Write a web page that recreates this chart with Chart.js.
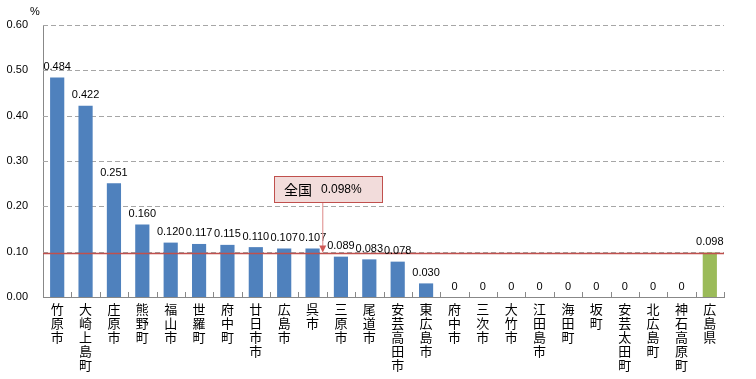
<!DOCTYPE html>
<html><head><meta charset="utf-8">
<script src="https://cdn.jsdelivr.net/npm/chart.js@4/dist/chart.umd.min.js"></script>
<style>html,body{margin:0;padding:0;background:#fff}#c{display:block}</style>
</head><body>
<canvas id="c" width="756" height="379"></canvas>
<script>
const categories = ['竹原市','大崎上島町','庄原市','熊野町','福山市','世羅町','府中町','廿日市市','広島市','呉市','三原市','尾道市','安芸高田市','東広島市','府中市','三次市','大竹市','江田島市','海田町','坂町','安芸太田町','北広島町','神石高原町','広島県'];
const values = [0.484,0.422,0.251,0.160,0.120,0.117,0.115,0.110,0.107,0.107,0.089,0.083,0.078,0.030,0,0,0,0,0,0,0,0,0,0.098];
const valueLabels = ['0.484','0.422','0.251','0.160','0.120','0.117','0.115','0.110','0.107','0.107','0.089','0.083','0.078','0.030','0','0','0','0','0','0','0','0','0','0.098'];
const nationalValue = 0.098;
const nationalLabel = '全国　0.098%';
const yTicks = [0,0.1,0.2,0.3,0.4,0.5,0.6];

const barColors = categories.map((c,i)=> i===categories.length-1 ? '#9bbb59' : '#4f81bd');
const numFont = '11px "Liberation Sans", Arial, sans-serif';

const overlay = {
  id:'overlay',
  beforeDatasetsDraw(chart){
    const ctx = chart.ctx, ca = chart.chartArea, y = chart.scales.y;
    ctx.save();
    ctx.strokeStyle = '#a6a6a6'; ctx.lineWidth = 1; ctx.setLineDash([5,3]);
    yTicks.forEach(v=>{ if(v===0) return; const py = Math.round(y.getPixelForValue(v))+0.5;
      ctx.beginPath(); ctx.moveTo(ca.left, py); ctx.lineTo(ca.right, py); ctx.stroke(); });
    ctx.restore();
  },
  afterDatasetsDraw(chart){
    const ctx = chart.ctx, ca = chart.chartArea, x = chart.scales.x, y = chart.scales.y;
    ctx.save();
    ctx.strokeStyle = '#888'; ctx.lineWidth = 1;
    for(let i=1;i<=categories.length;i++){
      const px = Math.round((x.getPixelForValue(i-1)+x.getPixelForValue(i))/2) + 0.5;
      const xx = i===categories.length ? Math.round(ca.right)+0.5 : px;
      ctx.beginPath(); ctx.moveTo(xx, ca.bottom); ctx.lineTo(xx, ca.bottom-5); ctx.stroke();
    }
    const ny = Math.round(y.getPixelForValue(nationalValue))+0.5;
    ctx.strokeStyle = '#c0504d'; ctx.lineWidth = 1.3;
    ctx.beginPath(); ctx.moveTo(ca.left, ny); ctx.lineTo(ca.right, ny); ctx.stroke();
    const meta = chart.getDatasetMeta(0);
    ctx.fillStyle = '#000'; ctx.font = numFont; ctx.textAlign='center'; ctx.textBaseline='bottom';
    meta.data.forEach((b,i)=>{ ctx.fillText(valueLabels[i], b.x, b.y-5); });
    ctx.textAlign='left'; ctx.textBaseline='middle';
    ctx.fillText('%', 30, 12);
    const ax = (x.getPixelForValue(9)+x.getPixelForValue(10))/2 - 4;
    const bx = 274, by = 176, bw = 108, bh = 26;
    ctx.strokeStyle = '#e39c9a'; ctx.lineWidth = 1.2;
    ctx.beginPath(); ctx.moveTo(ax, by+bh); ctx.lineTo(ax, ny-6); ctx.stroke();
    ctx.fillStyle = '#d05a57';
    ctx.beginPath(); ctx.moveTo(ax-3.5, ny-8); ctx.lineTo(ax+3.5, ny-8); ctx.lineTo(ax, ny-1); ctx.closePath(); ctx.fill();
    ctx.fillStyle = '#f2dcdb'; ctx.fillRect(bx, by, bw, bh);
    ctx.strokeStyle = '#c0504d'; ctx.lineWidth = 1;
    ctx.strokeRect(bx+0.5, by+0.5, bw, bh);
    ctx.fillStyle = '#000'; ctx.font = '14px "Noto Sans CJK JP", sans-serif';
    ctx.textAlign='left'; ctx.textBaseline='middle';
    ctx.fillText('全国', bx+10, by+bh/2+1);
    ctx.font = '12px "Liberation Sans", Arial, sans-serif';
    ctx.fillText('0.098%', bx+47, by+bh/2+1);
    ctx.restore();
  }
};

new Chart(document.getElementById('c'), {
  type:'bar',
  data:{ labels: categories.map(c=>c.split('')), datasets:[{ data: values, backgroundColor: barColors, barPercentage:0.5, categoryPercentage:1.0 }]},
  options:{
    responsive:false, animation:false,
    layout:{ padding:{ left:0, right:32, top:25, bottom:0 } },
    plugins:{ legend:{display:false}, tooltip:{enabled:false} },
    scales:{
      x:{ grid:{ display:false, drawTicks:false }, border:{ color:'#888' },
          afterFit(s){ s.height = 82; },
          ticks:{ color:'#000', autoSkip:false, maxRotation:0, minRotation:0, padding:5,
                  font:{ family:'"Noto Sans CJK JP", sans-serif', size:13, lineHeight:1.08 } } },
      y:{ min:0, max:0.6, afterBuildTicks(s){ s.ticks = yTicks.map(v=>({value:v})); },
          afterFit(s){ s.width = 43; },
          grid:{ display:false, drawTicks:false },
          border:{ color:'#888', display:true },
          ticks:{ color:'#000', padding:15, callback:v=>Number(v).toFixed(2),
                  font:{ family:'"Liberation Sans", Arial, sans-serif', size:11 } } }
    }
  },
  plugins:[overlay]
});
</script>
</body></html>
